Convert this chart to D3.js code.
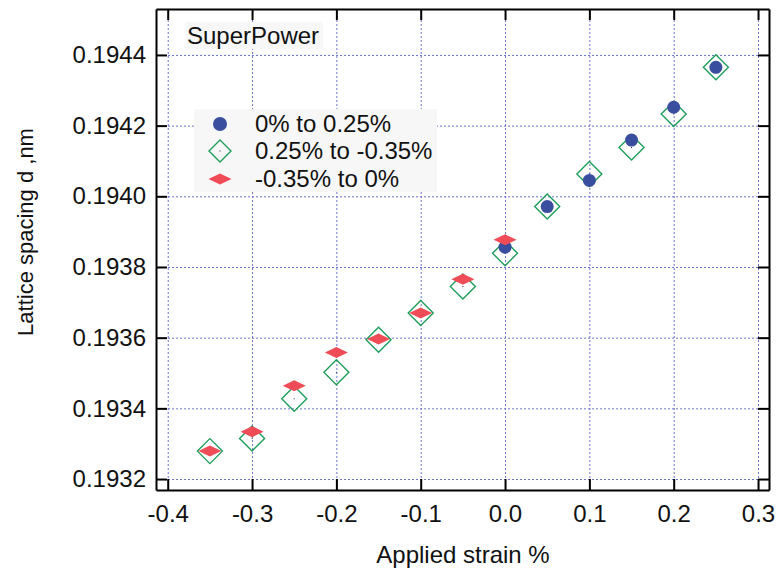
<!DOCTYPE html>
<meta charset="utf-8">
<style>
    body { margin: 0; background: #fff; }
    text { font-family: "Liberation Sans", Arial, sans-serif; fill: #111; }
    .grid line { stroke: #6a72cc; stroke-width: 1; stroke-dasharray: 2,2; }
    .grid path { display: none; }
    .frame path, .frame line { stroke: #000; stroke-width: 2; }
</style>
<div id="chart"></div>
<script src="https://d3js.org/d3.v7.min.js"></script>
<script>

    // data
    var xTicks = [-0.4, -0.3, -0.2, -0.1, 0.0, 0.1, 0.2, 0.3];
    var yTicks = [0.1932, 0.1934, 0.1936, 0.1938, 0.1940, 0.1942, 0.1944];

    var loadX = [0, 0.05, 0.1, 0.15, 0.2, 0.25];
    var loadD = [0.193856, 0.193971, 0.194045, 0.194159, 0.194252, 0.194365];

    var unloadX = [0.25, 0.2, 0.15, 0.1, 0.05, 0, -0.05, -0.1, -0.15, -0.2, -0.25, -0.3, -0.35];
    var unloadD = [0.194365, 0.194233, 0.194138, 0.194063, 0.193971, 0.193839, 0.193745,
                   0.19367, 0.193594, 0.193502, 0.193427, 0.193315, 0.193279];

    var backX = [-0.35, -0.3, -0.25, -0.2, -0.15, -0.1, -0.05, 0];
    var backD = [0.193279, 0.193334, 0.193464, 0.193558, 0.193596, 0.19367, 0.193765, 0.193877];

    var seriesNames = ["0% to 0.25%", "0.25% to -0.35%", "-0.35% to 0%"];

    var margin = { top: 9, right: 8, bottom: 84, left: 156 },
        width = 777 - margin.left - margin.right,
        height = 574 - margin.top - margin.bottom;

    var svg = d3.select("#chart")
        .append("svg")
        .attr("width", 777)
        .attr("height", 574)
        .append("g")
        .attr("transform", "translate(" + margin.left + "," + margin.top + ")");

    var x = d3.scaleLinear().domain([-0.4139, 0.313]).range([0, width]);
    var y = d3.scaleLinear().domain([0.193169, 0.19453]).range([height, 0]);

    // grid
    svg.append("g").attr("class", "grid")
        .attr("transform", "translate(0," + height + ")")
        .call(d3.axisBottom(x).tickValues(xTicks).tickSize(-height).tickFormat(""));
    svg.append("g").attr("class", "grid")
        .call(d3.axisLeft(y).tickValues(yTicks).tickSize(-width).tickFormat(""));

    // frame with inward ticks
    var tick = 11;
    svg.append("g").attr("class", "frame")
        .attr("transform", "translate(0," + height + ")")
        .call(d3.axisBottom(x).tickValues(xTicks).tickSize(-tick).tickSizeOuter(0).tickPadding(15)
            .tickFormat(function (d) { return d.toFixed(1); }));
    svg.append("g").attr("class", "frame")
        .call(d3.axisTop(x).tickValues(xTicks).tickSize(-tick).tickSizeOuter(0).tickFormat(""));
    svg.append("g").attr("class", "frame")
        .call(d3.axisLeft(y).tickValues(yTicks).tickSize(-tick).tickSizeOuter(0).tickPadding(10)
            .tickFormat(function (d) { return d.toFixed(4); }));
    svg.append("g").attr("class", "frame")
        .attr("transform", "translate(" + width + ",0)")
        .call(d3.axisRight(y).tickValues(yTicks).tickSize(-tick).tickSizeOuter(0).tickFormat(""));

    svg.selectAll(".frame text")
        .style("font-size", "24px")
        .style("font-family", "'Liberation Sans', Arial, sans-serif")
        .attr("fill", "#111");

    // marker shapes
    var openDiamond = "M0,-12.5L12.5,0L0,12.5L-12.5,0Z";
    var flatDiamond = "M0,-5.5L11.5,0L0,5.5L-11.5,0Z";

    var unload = unloadX.map(function (v, i) { return [v, unloadD[i]]; });
    var load = loadX.map(function (v, i) { return [v, loadD[i]]; });
    var back = backX.map(function (v, i) { return [v, backD[i]]; });

    var gU = svg.append("g").selectAll("g").data(unload).enter().append("g")
        .attr("transform", function (d) { return "translate(" + x(d[0]) + "," + y(d[1]) + ")"; });
    gU.append("path").attr("d", openDiamond)
        .attr("fill", "none").attr("stroke", "#1e9e5a").attr("stroke-width", 1.4);
    gU.append("rect").attr("x", -0.5).attr("y", -0.5).attr("width", 1).attr("height", 1).attr("fill", "#225");

    svg.append("g").selectAll("circle").data(load).enter().append("circle")
        .attr("cx", function (d) { return x(d[0]); })
        .attr("cy", function (d) { return y(d[1]); })
        .attr("r", 6.5)
        .attr("fill", "#3a4e9f");

    svg.append("g").selectAll("path").data(back).enter().append("path")
        .attr("d", flatDiamond)
        .attr("transform", function (d) { return "translate(" + x(d[0]) + "," + y(d[1]) + ")"; })
        .attr("fill", "#f04c58");

    // SuperPower label
    svg.append("rect").attr("x", 30).attr("y", 13).attr("width", 137).attr("height", 27).attr("fill", "#f7f7f7");
    svg.append("text").attr("x", 31).attr("y", 35).style("font-size", "24px").text("SuperPower");

    // legend
    var leg = svg.append("g").attr("transform", "translate(38,100)");
    leg.append("rect").attr("width", 243).attr("height", 83).attr("fill", "#f7f7f7");
    var rowY = [15, 42, 70];
    leg.append("circle").attr("cx", 26).attr("cy", rowY[0]).attr("r", 7).attr("fill", "#3a4e9f");
    leg.append("path").attr("d", "M0,-11L11,0L0,11L-11,0Z").attr("transform", "translate(26," + rowY[1] + ")")
        .attr("fill", "none").attr("stroke", "#1e9e5a").attr("stroke-width", 1.4);
    leg.append("rect").attr("x", 25.5).attr("y", rowY[1] - 0.5).attr("width", 1).attr("height", 1).attr("fill", "#225");
    leg.append("path").attr("d", flatDiamond).attr("transform", "translate(26," + rowY[2] + ")").attr("fill", "#f04c58");
    leg.selectAll("text.lbl").data(seriesNames).enter().append("text")
        .attr("class", "lbl")
        .attr("x", 61)
        .attr("y", function (d, i) { return rowY[i] + 8; })
        .style("font-size", "24px")
        .text(function (d) { return d; });

    // axis titles
    svg.append("text")
        .attr("x", (375 + 551) / 2 - margin.left)
        .attr("y", 563 - margin.top)
        .style("text-anchor", "middle")
        .style("font-size", "24px")
        .text("Applied strain %");

    svg.append("text")
        .attr("transform", "rotate(-90)")
        .attr("x", -(232 - margin.top))
        .attr("y", 33 - margin.left)
        .style("text-anchor", "middle")
        .style("font-size", "22px")
        .text("Lattice spacing d ,nm");

</script>
